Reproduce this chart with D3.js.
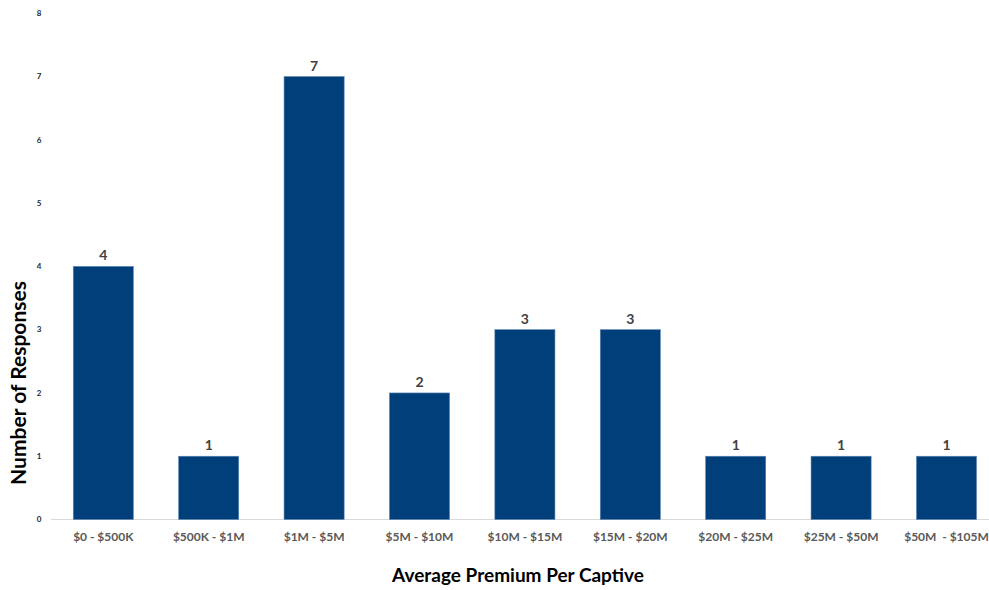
<!DOCTYPE html>
<html><head><meta charset="utf-8">
<script src="https://cdn.jsdelivr.net/npm/d3@7"></script>
<style>body{margin:0;background:#fff}svg{display:block}</style>
</head><body><svg id="c" width="989" height="590"></svg>
<script>
const categories = ["$0 - $500K","$500K - $1M","$1M - $5M","$5M - $10M","$10M - $15M","$15M - $20M","$20M - $25M","$25M - $50M","$50M  - $105M"];
const values = [4,1,7,2,3,3,1,1,1];
const yTicks = [0,1,2,3,4,5,6,7,8];
const xTitle = "Average Premium Per Captive";
const yTitle = "Number of Responses";

const svg = d3.select("#c");
const x = d3.scaleBand().domain(categories).range([50.6, 999.2]).paddingInner(0.43).paddingOuter(0.215);
const y = d3.scaleLinear().domain([0,8]).range([519.5, 13.3]);

// axis line
svg.append("line").attr("x1",51).attr("x2",989).attr("y1",y(0)).attr("y2",y(0))
  .attr("stroke","#d9d9d9").attr("stroke-width",1);

// y tick labels
svg.append("g").selectAll("text").data(yTicks).join("text")
  .attr("x",39).attr("y",d=>y(d)).attr("dy","0.35em").attr("text-anchor","middle")
  .attr("font-family","Lato, 'Open Sans', sans-serif").attr("font-weight","bold")
  .attr("font-size",8).attr("fill","#262626").text(d=>d);

// bars
svg.append("g").selectAll("rect").data(values).join("rect")
  .attr("x",(d,i)=>x(categories[i])).attr("width",x.bandwidth())
  .attr("y",d=>y(d)).attr("height",d=>y(0)-y(d))
  .attr("fill","#003f7a").attr("stroke","#5a84b0").attr("stroke-width",0.6);

// value labels
svg.append("g").selectAll("text").data(values).join("text")
  .attr("x",(d,i)=>x(categories[i])+x.bandwidth()/2).attr("y",d=>y(d)-6)
  .attr("text-anchor","middle").attr("font-family","Lato, 'Open Sans', sans-serif")
  .attr("font-weight","bold").attr("font-size",14).attr("fill","#404040").text(d=>d);

// x labels
svg.append("g").selectAll("text").data(categories).join("text")
  .attr("x",d=>x(d)+x.bandwidth()/2).attr("y",540.5)
  .attr("text-anchor","middle").attr("font-family","Lato, 'Open Sans', sans-serif")
  .attr("font-weight","bold").attr("font-size",12).attr("fill","#595959")
  .style("white-space","pre").attr("xml:space","preserve").text(d=>d);

// x title
svg.append("text").attr("x",518).attr("y",582).attr("text-anchor","middle")
  .attr("font-family","Lato, 'Open Sans', sans-serif").attr("font-weight","bold")
  .attr("font-size",19).attr("fill","#000").text(xTitle);

// y title
svg.append("text").attr("transform","translate(26,383) rotate(-90)").attr("text-anchor","middle")
  .attr("font-family","Lato, 'Open Sans', sans-serif").attr("font-weight","bold")
  .attr("font-size",21).attr("fill","#000").text(yTitle);
</script></body></html>
